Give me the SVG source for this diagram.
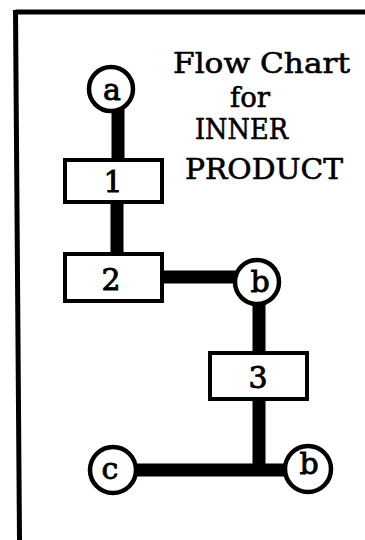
<svg xmlns="http://www.w3.org/2000/svg" width="365" height="540" viewBox="0 0 365 540">
<style>
  .frame{stroke:#000;stroke-width:5;fill:none}
  .box{fill:#fff;stroke:#000;stroke-width:4}
  .circ{fill:#fff;stroke:#000;stroke-width:4.5}
  .conn{stroke:#000;stroke-width:13;fill:none}
  .lbl{font-family:"DejaVu Serif","Liberation Serif",serif;font-size:30px;fill:#000;stroke:#000;stroke-width:0.9;text-anchor:middle}
  .title{font-family:"DejaVu Serif","Liberation Serif",serif;font-size:28px;fill:#000;stroke:#000;stroke-width:0.6}
</style>
<rect width="365" height="540" fill="#fff"/>
<g id="frame">
  <line class="frame" x1="15.5" y1="12" x2="365" y2="12"/>
  <line class="frame" x1="15.5" y1="10" x2="19.5" y2="540"/>
</g>
<g id="title">
  <text class="title" x="173" y="73" textLength="177" lengthAdjust="spacingAndGlyphs">Flow Chart</text>
  <text class="title" x="230" y="107" font-size="27" textLength="40" lengthAdjust="spacingAndGlyphs">for</text>
  <text class="title" x="195" y="139" font-size="27" textLength="93" lengthAdjust="spacingAndGlyphs">INNER</text>
  <text class="title" x="185" y="179" textLength="158" lengthAdjust="spacingAndGlyphs">PRODUCT</text>
</g>
<g id="connectors">
  <line class="conn" x1="118" y1="108" x2="118" y2="162"/>
  <line class="conn" x1="117" y1="201" x2="117" y2="256"/>
  <line class="conn" x1="160" y1="277" x2="240" y2="277"/>
  <line class="conn" x1="259" y1="300" x2="259" y2="355"/>
  <line class="conn" x1="259" y1="397" x2="259" y2="470"/>
  <line class="conn" x1="132" y1="470" x2="290" y2="470"/>
</g>
<g id="node-a">
  <circle class="circ" cx="111" cy="89" r="22"/>
  <text class="lbl" x="112" y="100">a</text>
</g>
<g id="node-1">
  <rect class="box" x="65" y="160" width="97" height="42"/>
  <text class="lbl" x="113" y="192">1</text>
</g>
<g id="node-2">
  <rect class="box" x="65" y="254" width="97" height="47"/>
  <text class="lbl" x="111" y="290">2</text>
</g>
<g id="node-b1">
  <circle class="circ" cx="257" cy="282" r="22"/>
  <text class="lbl" x="260" y="292">b</text>
</g>
<g id="node-3">
  <rect class="box" x="210" y="353" width="97" height="46"/>
  <text class="lbl" x="258" y="388">3</text>
</g>
<g id="node-c">
  <circle class="circ" cx="113" cy="470" r="23"/>
  <text class="lbl" x="110" y="479">c</text>
</g>
<g id="node-b2">
  <circle class="circ" cx="308" cy="469" r="23"/>
  <text class="lbl" x="309" y="474">b</text>
</g>
</svg>
